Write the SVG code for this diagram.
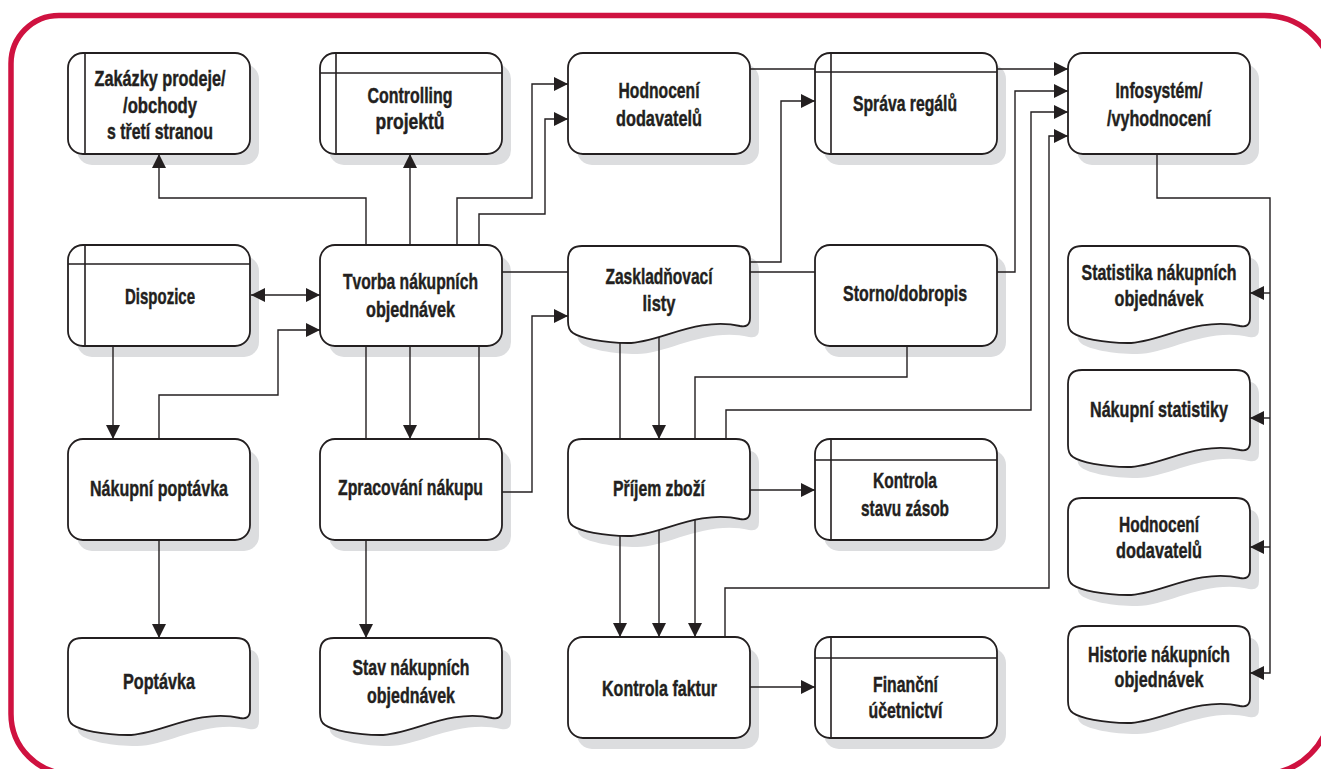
<svg xmlns="http://www.w3.org/2000/svg" xmlns:xlink="http://www.w3.org/1999/xlink" width="1321" height="769" viewBox="0 0 1321 769">
<style>
.bg{fill:#fff}
.frame{fill:none;stroke:#cf1240;stroke-width:5.5}
.sh{fill:#dcdddf;stroke:none}
.box{fill:#fff;stroke:#231f20;stroke-width:1.8}
.sep{fill:none;stroke:#231f20;stroke-width:1.6}
.ln{fill:none;stroke:#231f20;stroke-width:1.4}
.arr{marker-end:url(#ah)}
.t{font-family:"Liberation Sans",Arial,sans-serif;font-weight:bold;font-size:22.5px;fill:#231f20;stroke:#231f20;stroke-width:0.45;text-anchor:middle}
</style>
<defs>
<rect id="rb" width="182" height="101" rx="15" ry="15"/>
<path id="doc" d="M0,14 Q0,0 14,0 H168 Q182,0 182,14 V72 Q182,82 172,80 C130,70 90,97 60,97 C35,97 12,92 5,87 Q0,84 0,75 Z"/>
<marker id="ah" markerUnits="userSpaceOnUse" markerWidth="15" markerHeight="14" refX="14" refY="7" orient="auto-start-reverse">
<path d="M0,0 L14,7 L0,14 Z" fill="#231f20"/>
</marker>
</defs>
<rect class="bg" x="0" y="0" width="1321" height="769"/>
<path class="frame" d="M11,63.5 A48,48 0 0 1 59,15.5 H1264.4 A70,70 0 0 1 1334.4,85.5 L1330.8,705 A69.1,69.1 0 0 1 1261.7,774.1 H71.2 A60.2,60.2 0 0 1 11,713.9 Z"/>

<g id="n-zakazky" transform="translate(68,53)">
<use href="#rb" class="sh" x="9" y="11"/><use href="#rb" class="box"/>
<path class="sep" d="M17,0 V101"/>
<text class="t" x="92" y="33" textLength="131" lengthAdjust="spacingAndGlyphs">Zakázky prodeje/</text>
<text class="t" x="92" y="60" textLength="74" lengthAdjust="spacingAndGlyphs">/obchody</text>
<text class="t" x="92" y="86" textLength="106" lengthAdjust="spacingAndGlyphs">s třetí stranou</text>
</g>
<g id="n-controlling" transform="translate(320,53)">
<use href="#rb" class="sh" x="9" y="11"/><use href="#rb" class="box"/>
<path class="sep" d="M0,20 H182 M16,0 V101"/>
<text class="t" x="90" y="50" textLength="85" lengthAdjust="spacingAndGlyphs">Controlling</text>
<text class="t" x="90" y="76" textLength="69" lengthAdjust="spacingAndGlyphs">projektů</text>
</g>
<g id="n-hodnoceni" transform="translate(568,53)">
<use href="#rb" class="sh" x="9" y="11"/><use href="#rb" class="box"/>
<text class="t" x="91" y="45" textLength="81" lengthAdjust="spacingAndGlyphs">Hodnocení</text>
<text class="t" x="91" y="73" textLength="86" lengthAdjust="spacingAndGlyphs">dodavatelů</text>
</g>
<g id="n-sprava" transform="translate(815,53)">
<use href="#rb" class="sh" x="9" y="11"/><use href="#rb" class="box"/>
<path class="sep" d="M0,19 H182 M16,0 V101"/>
<text class="t" x="90" y="58" textLength="104" lengthAdjust="spacingAndGlyphs">Správa regálů</text>
</g>
<g id="n-infosystem" transform="translate(1068,53)">
<use href="#rb" class="sh" x="9" y="11"/><use href="#rb" class="box"/>
<text class="t" x="91" y="45" textLength="87" lengthAdjust="spacingAndGlyphs">Infosystém/</text>
<text class="t" x="91" y="73" textLength="104" lengthAdjust="spacingAndGlyphs">/vyhodnocení</text>
</g>

<g id="n-dispozice" transform="translate(68,245)">
<use href="#rb" class="sh" x="9" y="11"/><use href="#rb" class="box"/>
<path class="sep" d="M0,19 H182 M17,0 V101"/>
<text class="t" x="92" y="59" textLength="70" lengthAdjust="spacingAndGlyphs">Dispozice</text>
</g>
<g id="n-tvorba" transform="translate(320,245)">
<use href="#rb" class="sh" x="9" y="11"/><use href="#rb" class="box"/>
<text class="t" x="90.5" y="44" textLength="135" lengthAdjust="spacingAndGlyphs">Tvorba nákupních</text>
<text class="t" x="90.5" y="72" textLength="89" lengthAdjust="spacingAndGlyphs">objednávek</text>
</g>
<g id="n-zaskladnovaci" transform="translate(568,246)">
<use href="#doc" class="sh" x="9" y="11"/><use href="#doc" class="box"/>
<text class="t" x="91" y="38" textLength="107" lengthAdjust="spacingAndGlyphs">Zaskladňovací</text>
<text class="t" x="91" y="65" textLength="33" lengthAdjust="spacingAndGlyphs">listy</text>
</g>
<g id="n-storno" transform="translate(815,245)">
<use href="#rb" class="sh" x="9" y="11"/><use href="#rb" class="box"/>
<text class="t" x="90" y="56" textLength="124" lengthAdjust="spacingAndGlyphs">Storno/dobropis</text>
</g>
<g id="n-statistika" transform="translate(1068,246)">
<use href="#doc" class="sh" x="9" y="11"/><use href="#doc" class="box"/>
<text class="t" x="91" y="34" textLength="155" lengthAdjust="spacingAndGlyphs">Statistika nákupních</text>
<text class="t" x="91" y="60" textLength="89" lengthAdjust="spacingAndGlyphs">objednávek</text>
</g>

<g id="n-nakupni-poptavka" transform="translate(68,439)">
<use href="#rb" class="sh" x="9" y="11"/><use href="#rb" class="box"/>
<text class="t" x="91" y="57" textLength="138" lengthAdjust="spacingAndGlyphs">Nákupní poptávka</text>
</g>
<g id="n-zpracovani" transform="translate(320,439)">
<use href="#rb" class="sh" x="9" y="11"/><use href="#rb" class="box"/>
<text class="t" x="90.5" y="56" textLength="145" lengthAdjust="spacingAndGlyphs">Zpracování nákupu</text>
</g>
<g id="n-prijem" transform="translate(568,439)">
<use href="#doc" class="sh" x="9" y="11"/><use href="#doc" class="box"/>
<text class="t" x="91" y="57" textLength="92" lengthAdjust="spacingAndGlyphs">Příjem zboží</text>
</g>
<g id="n-kontrola-stavu" transform="translate(815,439)">
<use href="#rb" class="sh" x="9" y="11"/><use href="#rb" class="box"/>
<path class="sep" d="M0,21 H182 M16,0 V101"/>
<text class="t" x="90" y="49" textLength="64" lengthAdjust="spacingAndGlyphs">Kontrola</text>
<text class="t" x="90" y="77" textLength="88" lengthAdjust="spacingAndGlyphs">stavu zásob</text>
</g>
<g id="n-nakupni-statistiky" transform="translate(1068,370)">
<use href="#doc" class="sh" x="9" y="11"/><use href="#doc" class="box"/>
<text class="t" x="91" y="47" textLength="138" lengthAdjust="spacingAndGlyphs">Nákupní statistiky</text>
</g>
<g id="n-hodnoceni-doc" transform="translate(1068,498)">
<use href="#doc" class="sh" x="9" y="11"/><use href="#doc" class="box"/>
<text class="t" x="91" y="34" textLength="80" lengthAdjust="spacingAndGlyphs">Hodnocení</text>
<text class="t" x="91" y="60" textLength="86" lengthAdjust="spacingAndGlyphs">dodavatelů</text>
</g>

<g id="n-poptavka" transform="translate(68,638)">
<use href="#doc" class="sh" x="9" y="11"/><use href="#doc" class="box"/>
<text class="t" x="91" y="51" textLength="72" lengthAdjust="spacingAndGlyphs">Poptávka</text>
</g>
<g id="n-stav" transform="translate(320,638)">
<use href="#doc" class="sh" x="9" y="11"/><use href="#doc" class="box"/>
<text class="t" x="91" y="37" textLength="117" lengthAdjust="spacingAndGlyphs">Stav nákupních</text>
<text class="t" x="91" y="65" textLength="88" lengthAdjust="spacingAndGlyphs">objednávek</text>
</g>
<g id="n-kontrola-faktur" transform="translate(568,637)">
<use href="#rb" class="sh" x="9" y="11"/><use href="#rb" class="box"/>
<text class="t" x="91.5" y="59" textLength="115" lengthAdjust="spacingAndGlyphs">Kontrola faktur</text>
</g>
<g id="n-financni" transform="translate(815,637)">
<use href="#rb" class="sh" x="9" y="11"/><use href="#rb" class="box"/>
<path class="sep" d="M0,21 H182 M16,0 V101"/>
<text class="t" x="90.5" y="55" textLength="65" lengthAdjust="spacingAndGlyphs">Finanční</text>
<text class="t" x="90.5" y="81" textLength="74" lengthAdjust="spacingAndGlyphs">účetnictví</text>
</g>
<g id="n-historie" transform="translate(1068,626)">
<use href="#doc" class="sh" x="9" y="11"/><use href="#doc" class="box"/>
<text class="t" x="91" y="36" textLength="142" lengthAdjust="spacingAndGlyphs">Historie nákupních</text>
<text class="t" x="91" y="61" textLength="89" lengthAdjust="spacingAndGlyphs">objednávek</text>
</g>

<g id="connectors">
<path class="ln arr" d="M366,245 V198 H159 V154"/>
<path class="ln arr" d="M410,245 V154"/>
<path class="ln arr" d="M457,245 V198 H532 V84 H568"/>
<path class="ln arr" d="M479,245 V214 H545 V119 H568"/>
<path class="ln arr" d="M750,69 H815 M997,69 H1068"/>
<path class="ln arr" d="M750,262 H781 V101 H815"/>
<path class="ln" d="M502,272 H568 M750,272 H815"/>
<path class="ln arr" d="M997,272 H1015 V91 H1068"/>
<path class="ln arr" d="M726,439 V410 H1031 V112 H1068"/>
<path class="ln arr" d="M725,637 V588 H1049 V136 H1068"/>
<path class="ln" d="M907,346 V377 H695 V439"/>
<path class="ln arr" d="M659,337 V439"/>
<path class="ln" d="M620,342.9 V439"/>
<path class="ln arr" d="M502,492 H532 V316 H568"/>
<path class="ln arr" style="marker-start:url(#ah)" d="M251,295 H320"/>
<path class="ln arr" d="M159,439 V395 H278 V330 H320"/>
<path class="ln arr" d="M113,346 V439"/>
<path class="ln arr" d="M410,346 V439"/>
<path class="ln" d="M366,346 V439 M479,346 V439"/>
<path class="ln arr" d="M159,540 V638"/>
<path class="ln arr" d="M366,540 V638"/>
<path class="ln arr" d="M750,490 H815"/>
<path class="ln arr" d="M620,535.9 V637"/>
<path class="ln arr" d="M659,530.1 V637"/>
<path class="ln arr" d="M695,519.9 V637"/>
<path class="ln arr" d="M750,687 H815"/>
<path class="ln arr" d="M1157,154 V198 H1270 V673 H1250"/>
<path class="ln arr" d="M1270,293 H1250"/>
<path class="ln arr" d="M1270,418 H1250"/>
<path class="ln arr" d="M1270,547 H1250"/>
</g>
</svg>
